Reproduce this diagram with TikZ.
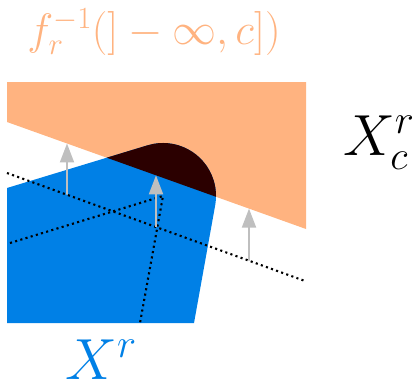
\documentclass[tikz,border=0pt]{standalone}
\usepackage{fix-cm}
\usetikzlibrary{calc,arrows.meta}
\definecolor{lvlorange}{RGB}{255,179,128}
\definecolor{setblue}{RGB}{0,128,230}
\definecolor{overlap}{RGB}{43,0,0}
\tikzset{
  % dotted lines are the unrounded set and its shifted level line,
  % the grey arrows lift that line onto the edge of the sublevel set
  guide/.style    = {black, line width=2.1pt, dash pattern=on 2.1pt off 3.3pt},
  lift/.style     = {black!25, line width=1.9pt, -{Triangle[length=19pt,width=14pt]}},
  biglabel/.style = {inner sep=0pt, font=\fontsize{58}{62}\selectfont},
  toplabel/.style = {inner sep=0pt, font=\fontsize{44}{48}\selectfont,
                     text=lvlorange},
}

\begin{document}
\begin{tikzpicture}[x=1pt, y=1pt]
    \useasboundingbox (0,0) rectangle (419,384);

    \coordinate (O1) at (7,302);
    \coordinate (O2) at (306,302);
    \coordinate (O3) at (306,155);
    \coordinate (O4) at (7,262);

    \coordinate (core) at (163,188);
    \coordinate (B1) at (7,196);
    \coordinate (B2) at (194,61);
    \coordinate (B3) at (7,61);

    \coordinate (L1) at (7,211);
    \coordinate (L2) at (305,103);
    \coordinate (E1) at (10,141);
    \coordinate (E2) at (140,61);

    \fill[lvlorange] (O1) -- (O2) -- (O3) -- (O4) -- cycle;
    \fill[setblue] (B1) -- ($(core)+(107.1:53)$)
        arc[start angle=107.1, end angle=-10.2, radius=53]
        -- (B2) -- (B3) -- cycle;
    \begin{scope}
        \clip (O1) -- (O2) -- (O3) -- (O4) -- cycle;
        \fill[overlap] (B1) -- ($(core)+(107.1:53)$)
            arc[start angle=107.1, end angle=-10.2, radius=53]
            -- (B2) -- (B3) -- cycle;
    \end{scope}

    \draw[guide] (L1) -- (L2);
    \draw[guide] (E1) -- (core) -- (E2);

    \foreach \x [count=\i] in {67,156,249} {
        \coordinate (foot\i) at (intersection of L1--L2 and \x,0--\x,10);
        \coordinate (head\i) at (intersection of O4--O3 and \x,0--\x,10);
        \draw[lift] (foot\i) -- (head\i);
    }

    \node[toplabel, anchor=base] (preimg) at (154,340) {$f_r^{-1}(]-\infty,c])$};
    \node[biglabel, text=setblue, anchor=base] (xr) at (101,5) {$X^r$};
    \node[biglabel, anchor=base west] (xcr) at (343,229) {$X_c^r$};
\end{tikzpicture}
\end{document}
